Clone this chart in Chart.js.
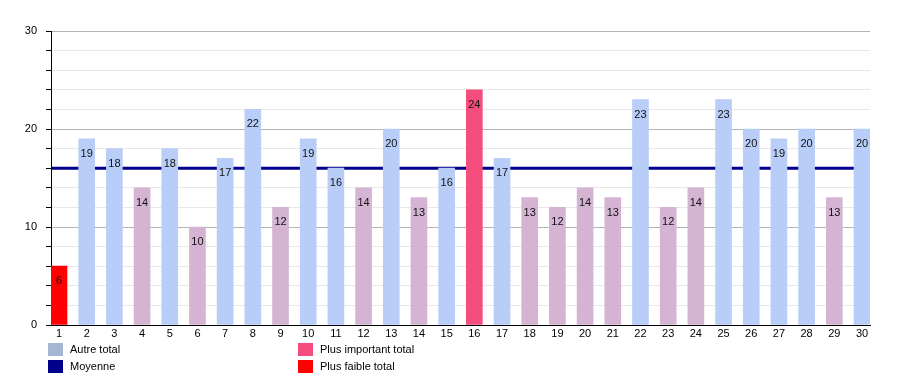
<!DOCTYPE html>
<html>
<head>
<meta charset="utf-8">
<script src="https://cdn.jsdelivr.net/npm/chart.js@4"></script>
<style>
html,body{margin:0;padding:0;background:#fff;}
#wrap{position:relative;width:900px;height:375px;}
canvas{position:absolute;left:0;top:0;}
.lg{position:absolute;font:11px "Liberation Sans",Arial,sans-serif;color:#000;white-space:nowrap;}
.lg span.b{position:absolute;left:0;top:0;width:15px;height:13px;}
.lg span.t{position:absolute;left:22px;top:0;line-height:13px;}
</style>
</head>
<body>
<div id="wrap">
<canvas id="c" width="900" height="375"></canvas>
</div>
<script>
// ---- data ----
const categories = ["1","2","3","4","5","6","7","8","9","10","11","12","13","14","15","16","17","18","19","20","21","22","23","24","25","26","27","28","29","30"];
const totals = [6,19,18,14,18,10,17,22,12,19,16,14,20,13,16,24,17,13,12,14,13,23,12,14,23,20,19,20,13,20];
const meanValue = [16];
const yTicks = [0,10,20,30];
const legendLabels = ["Autre total","Moyenne","Plus important total","Plus faible total"];

// ---- styles ----
const colAbove = '#b8cdf7';
const colBelow = '#d4b4d2';
const colMax = '#f44d7e';
const colMin = '#ff0000';
const colMean = '#00008c';
const legendColors = ['#a3b7d3', '#00008c', '#f44d7e', '#ff0000'];

const maxV = Math.max(...totals), minV = Math.min(...totals);
const barColors = totals.map(v => v === maxV ? colMax : (v === minV ? colMin : (v >= meanValue[0] ? colAbove : colBelow)));

const half = 0.289;
const xMin = 1 - half, xMax = categories.length + half;

const labelPlugin = {
  id: 'valLabels',
  afterDatasetsDraw(chart) {
    const meta = chart.getDatasetMeta(0);
    const ctx = chart.ctx;
    ctx.save();
    ctx.font = '11px "Liberation Sans", Arial, sans-serif';
    ctx.fillStyle = '#111';
    ctx.textAlign = 'center';
    ctx.textBaseline = 'middle';
    meta.data.forEach((el, i) => {
      ctx.fillText(String(totals[i]), el.x, el.y + 15);
    });
    ctx.restore();
  }
};

new Chart(document.getElementById('c'), {
  type: 'bar',
  data: {
    datasets: [
      {
        type: 'bar',
        data: totals.map((v, i) => ({x: i + 1, y: v})),
        backgroundColor: barColors,
        barThickness: 16,
        borderWidth: 0,
        order: 1
      },
      {
        type: 'line',
        data: [{x: xMin, y: meanValue[0]}, {x: xMax, y: meanValue[0]}],
        borderColor: colMean,
        borderWidth: 3,
        pointRadius: 0,
        fill: false,
        order: 2
      }
    ]
  },
  options: {
    responsive: false,
    animation: false,
    events: [],
    layout: {padding: {left: 0, right: 30, top: 31, bottom: 0}},
    plugins: {legend: {display: false}, tooltip: {enabled: false}},
    scales: {
      x: {
        type: 'linear',
        offset: false,
        min: xMin,
        max: xMax,
        afterBuildTicks: (s) => { s.ticks = categories.map((c, i) => ({value: i + 1})); },
        afterFit: (s) => { s.height = 50; },
        grid: {display: false, drawTicks: false, offset: false},
        border: {display: true, color: '#000', width: 1},
        ticks: {
          autoSkip: false,
          maxRotation: 0,
          padding: 2,
          color: '#000',
          font: {family: '"Liberation Sans", Arial, sans-serif', size: 11},
          callback: (v) => { const i = Math.round(v) - 1; return categories[i] !== undefined && Math.abs(v - (i + 1)) < 1e-6 ? categories[i] : ''; }
        }
      },
      y: {
        min: 0,
        max: 30,
        afterFit: (s) => { s.width = 51; },
        grid: {
          color: (c) => (c.tick && yTicks.includes(c.tick.value)) ? '#b4b4b4' : '#e8e8e8',
          tickColor: '#000',
          tickLength: 5,
          lineWidth: 1
        },
        border: {display: true, color: '#000', width: 1},
        ticks: {
          stepSize: 2,
          padding: 9,
          color: '#000',
          font: {family: '"Liberation Sans", Arial, sans-serif', size: 11},
          callback: (v) => yTicks.includes(v) ? String(v) : ''
        }
      }
    }
  },
  plugins: [labelPlugin]
});

// ---- legend (HTML) ----
const pos = [[48, 343], [48, 360], [298, 343], [298, 360]];
const wrap = document.getElementById('wrap');
legendLabels.forEach((l, i) => {
  const d = document.createElement('div');
  d.className = 'lg';
  d.style.left = pos[i][0] + 'px';
  d.style.top = pos[i][1] + 'px';
  d.innerHTML = '<span class="b" style="background:' + legendColors[i] + '"></span><span class="t"></span>';
  d.querySelector('.t').textContent = l;
  wrap.appendChild(d);
});
</script>
</body>
</html>
